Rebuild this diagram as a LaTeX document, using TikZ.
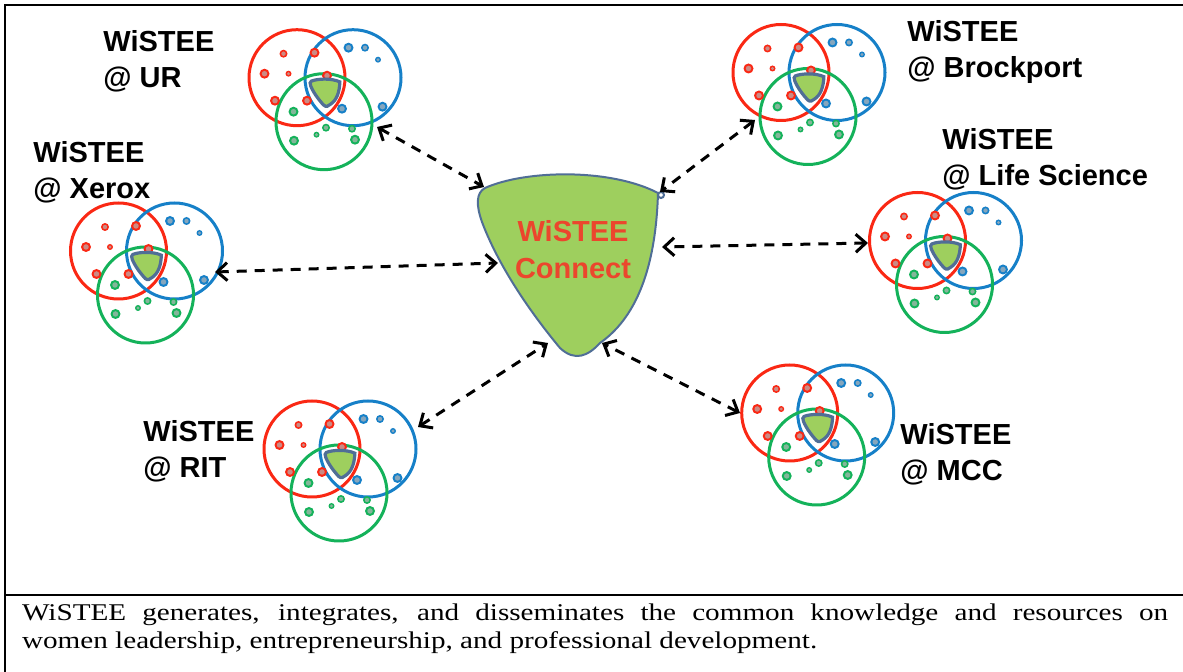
\documentclass[tikz,border=0pt]{standalone}
\usepackage{fontspec}
\setmainfont{Liberation Serif}
\newfontfamily\labelfont{Liberation Sans}
\newfontfamily\notefont[FakeStretch=1.215]{Liberation Serif}
\usetikzlibrary{arrows.meta}
\tolerance=10000

\definecolor{wred}{RGB}{250,40,20}
\definecolor{wblue}{RGB}{22,128,200}
\definecolor{wgreen}{RGB}{20,178,90}
\definecolor{wfill}{RGB}{158,207,94}
\definecolor{wedge}{RGB}{80,110,150}
\definecolor{wtext}{RGB}{235,70,45}

% outline of the connect shape, in pixels
\def\blobpath{(485,188) .. controls (525,170) and (610,168) .. (658,193)
  .. controls (656,260) and (640,315) .. (600,343)
  .. controls (588,356) and (575,362) .. (560,348)
  .. controls (535,318) and (500,270) .. (482,222)
  .. controls (476,205) and (476,193) .. (485,188) -- cycle}

\newcommand{\wdot}[4]{%
  \fill[#1] (#2,#3) circle[radius=#4];
  \fill[#1!45!gray!70!white] (#2,#3) circle[radius=#4*0.55];
}

\tikzset{
  ring/.style={line width=1.5pt},
  link/.style={line width=1.5pt, dash pattern=on 5pt off 4pt,
    {Straight Barb[length=5pt,width=9pt]}-{Straight Barb[length=5pt,width=9pt]}},
  site/.style={anchor=north west, inner sep=0pt, align=left,
    font=\labelfont\bfseries\fontsize{14.5}{18}\selectfont},
  hubtext/.style={anchor=north, inner sep=0pt, align=center, text=wtext,
    font=\labelfont\bfseries\fontsize{14.5}{18.3}\selectfont},
  caption/.style={anchor=north west, inner sep=0pt, text width=573pt,
    align=justify, font=\notefont\fontsize{12}{14.15}\selectfont},
  cluster/.pic={
    \draw[ring, wred] (0,0) circle[radius=48];
    \draw[ring, wblue] (56,0) circle[radius=48];
    \draw[ring, wgreen] (27,44) circle[radius=48];
    \foreach \x/\y/\r in {-13.5/-24/4, 17.5/-25/5, -32.5/-4/5, -8.5/-4/3, 30/-2/5, -22/23/5, 10/23/5}
      {\wdot{wred}{\x}{\y}{\r}}
    \foreach \x/\y/\r in {51.5/-30/5, 68/-30/4, 81/-18/3, 85.5/29/5, 45/31/5}
      {\wdot{wblue}{\x}{\y}{\r}}
    \foreach \x/\y/\r in {-3.5/34/5, 29/50/4, 55/51/4, 19.5/57/3, -3/63/5, 58/62/5}
      {\wdot{wgreen}{\x}{\y}{\r}}
    \begin{scope}[shift={(28,15)}, xscale=0.165, yscale=0.15, shift={(-568,-265)}]
      \draw[line width=1.6pt, wedge, fill=wfill] \blobpath;
    \end{scope}
  }
}

\begin{document}
\begin{tikzpicture}[x=0.5pt, y=-0.5pt]
	\useasboundingbox (0,0) rectangle (1183,672);
	% frame
	\draw[line width=1pt] (5,672) -- (5,5) -- (1183,5);
	\draw[line width=1pt] (5,595) -- (1183,595);

	% the six sites
	\pic at (297,77.7) {cluster};
	\pic at (781,72.5) {cluster};
	\pic at (118.5,251) {cluster};
	\pic at (917.5,240.5) {cluster};
	\pic at (312,449) {cluster};
	\pic at (789.7,413) {cluster};

	% connect shape
	\draw[line width=1pt, wedge, fill=wfill] \blobpath;
	\draw[line width=1pt, wedge] (661,195) circle[radius=3];
	\node[hubtext] (hub) at (573,220) {WiSTEE\\Connect};

	\node[site] (labUR) at (103,30) {WiSTEE\\@ UR};
	\node[site] (labBrockport) at (907,20) {WiSTEE\\@ Brockport};
	\node[site] (labXerox) at (33,141) {WiSTEE\\@ Xerox};
	\node[site] (labLife) at (942,128) {WiSTEE\\@ Life Science};
	\node[site] (labRIT) at (143,420) {WiSTEE\\@ RIT};
	\node[site] (labMCC) at (900,423) {WiSTEE\\@ MCC};

	\coordinate (UR) at (377,127);
	\coordinate (HubUR) at (484,187);
	\coordinate (Brockport) at (755,120);
	\coordinate (HubBrockport) at (660,192);
	\coordinate (Xerox) at (215,272);
	\coordinate (HubXerox) at (498,263);
	\coordinate (Life) at (868,243);
	\coordinate (HubLife) at (662,247);
	\coordinate (RIT) at (418,427);
	\coordinate (HubRIT) at (548,343);
	\coordinate (MCC) at (740,413);
	\coordinate (HubMCC) at (602,343);
	\foreach \s in {UR,Brockport,Xerox,Life,RIT,MCC}
		\draw[link] (\s) -- (Hub\s);

	\node[caption] (note) at (21.7,603.5) {WiSTEE generates, integrates, and disseminates the common knowledge and resources on\linebreak women leadership, entrepreneurship, and professional development.};
\end{tikzpicture}
\end{document}
